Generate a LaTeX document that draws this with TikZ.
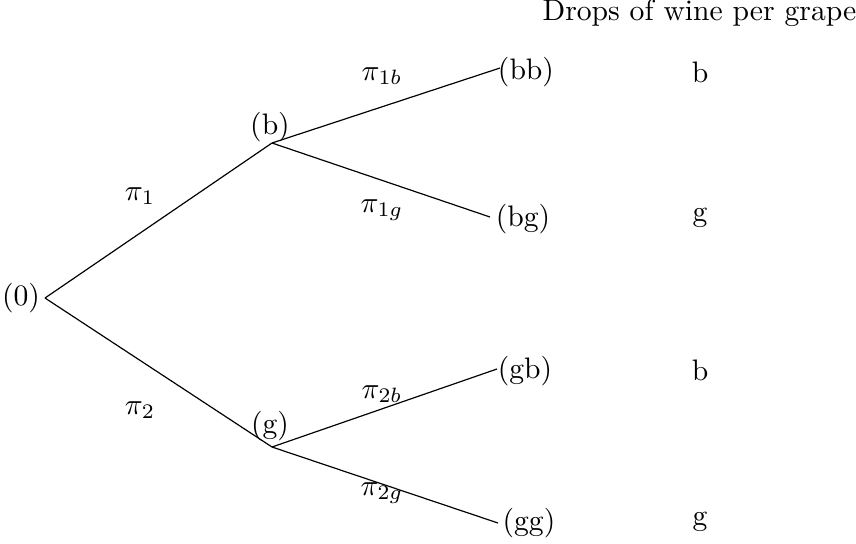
\documentclass[tikz,border=0pt]{standalone}
\begin{document}
\begin{tikzpicture}[x=0.3373pt,y=-0.3373pt,
  lbl/.style={inner sep=0pt},
  edge/.style={line width=0.4pt}]
\useasboundingbox (0,0) rectangle (856,543);
% vertices
\coordinate (v0) at (45,298);
\coordinate (vb) at (272,143);
\coordinate (vg) at (272,447);
\coordinate (vbb) at (500,68);
\coordinate (vbg) at (490,217);
\coordinate (vgb) at (497,369);
\coordinate (vgg) at (498,523);
% state labels
\node[lbl] (n0) at (21,298) {(0)};
\node[lbl] (nb) at (270,127) {(b)};
\node[lbl] (ng) at (270,426) {(g)};
\node[lbl] (nbb) at (526,72) {(bb)};
\node[lbl] (nbg) at (523,219) {(bg)};
\node[lbl] (ngb) at (525,371) {(gb)};
\node[lbl] (ngg) at (529,523) {(gg)};
% edges
\draw[edge] (v0) -- (vb);
\draw[edge] (v0) -- (vg);
\draw[edge] (vb) -- (vbb);
\draw[edge] (vb) -- (vbg);
\draw[edge] (vg) -- (vgb);
\draw[edge] (vg) -- (vgg);
% edge labels
\node[lbl] (p1) at (140,196) {$\pi_1$};
\node[lbl] (p2) at (140,410) {$\pi_2$};
\node[lbl] (p1b) at (382,76) {$\pi_{1b}$};
\node[lbl] (p1g) at (382,210) {$\pi_{1g}$};
\node[lbl] (p2b) at (382,394) {$\pi_{2b}$};
\node[lbl] (p2g) at (382,493) {$\pi_{2g}$};
% right column
\node[lbl] (hdr) at (699.5,13) {Drops of wine per grape};
\node[lbl] (rbb) at (700,72) {b};
\node[lbl] (rbg) at (700,218) {g};
\node[lbl] (rgb) at (700,370) {b};
\node[lbl] (rgg) at (700,522) {g};
\end{tikzpicture}
\end{document}
